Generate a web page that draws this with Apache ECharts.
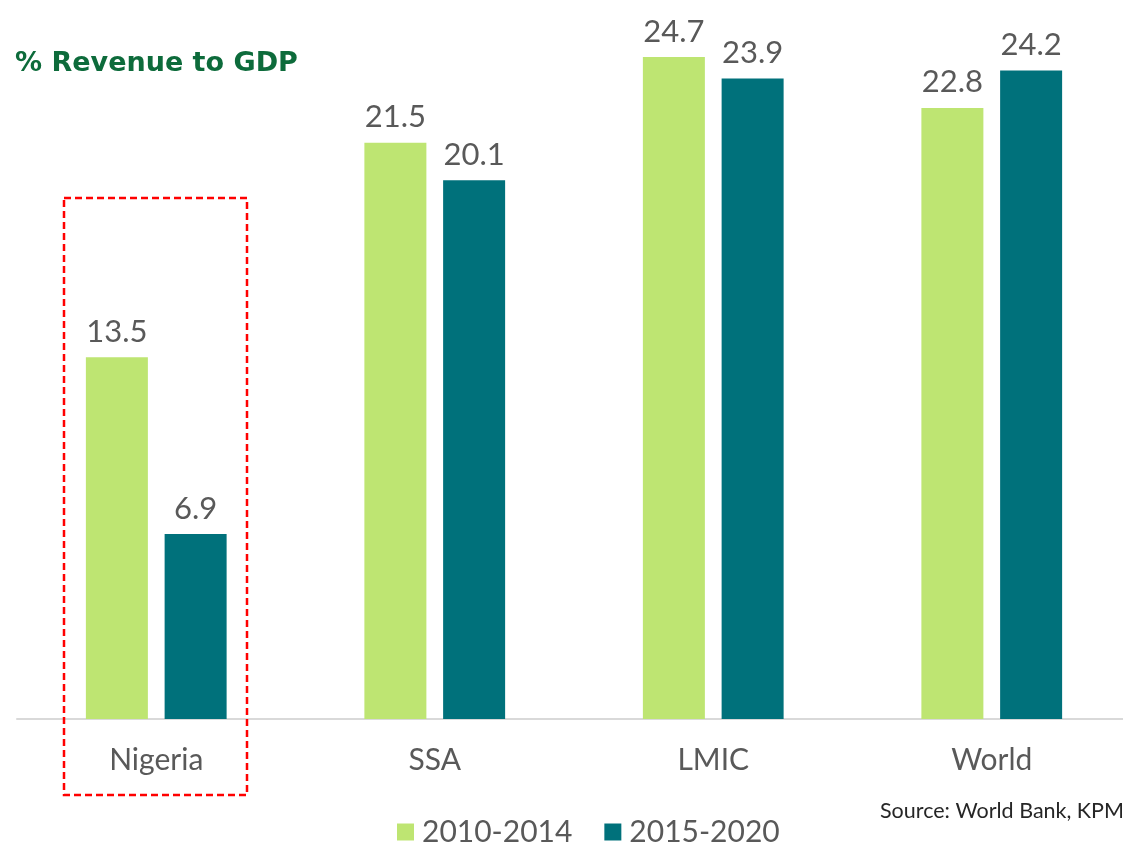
<!DOCTYPE html>
<html lang="en">
<head>
	<meta charset="UTF-8">
	<title>% Revenue to GDP</title>
	<style>
		html, body{
			margin: 0;
			padding: 0;
			background: #fff;
		}
		#main{
			width: 1123px;
			height: 845px;
		}
	</style>
	<script src="https://cdn.jsdelivr.net/npm/echarts@6/dist/echarts.min.js"></script>
</head>
<body>
	<div id="main"></div>
	<script>
		// data
		var categories = ['Nigeria', 'SSA', 'LMIC', 'World'];
		var seriesNames = ['2010-2014', '2015-2020'];
		var values2010 = [13.5, 21.5, 24.7, 22.8];
		var values2015 = [6.9, 20.1, 23.9, 24.2];

		var textGrey = '#595959';
		var fontName = 'Lato, "Open Sans", sans-serif';

		var myChart = echarts.init(document.getElementById('main'), null, {renderer: 'canvas'});

		function barLabel(){
			return {
				show: true,
				position: 'top',
				distance: 10,
				color: textGrey,
				fontSize: 31,
				fontFamily: fontName,
				formatter: function(p){ return p.value.toFixed(1); }
			};
		}

		var option = {
			backgroundColor: '#fff',
			animation: false,
			title: {
				text: '% Revenue to GDP',
				left: 15,
				top: 50,
				padding: 0,
				textStyle: {
					color: '#0d6b3b',
					fontSize: 27,
					fontWeight: 'bold',
					fontFamily: '"DejaVu Sans", sans-serif'
				}
			},
			legend: {
				data: seriesNames,
				left: 397,
				top: 817,
				padding: 0,
				itemWidth: 17,
				itemHeight: 17,
				itemGap: 32,
				icon: 'rect',
				textStyle: {
					color: textGrey,
					fontSize: 30,
					fontFamily: fontName,
					padding: [0, 0, 0, 3]
				}
			},
			grid: {
				left: 17,
				width: 1114,
				top: 49,
				bottom: 126,
				containLabel: false,
				outerBoundsMode: 'none'
			},
			xAxis: {
				type: 'category',
				data: categories,
				axisLine: {lineStyle: {color: '#d9d9d9', width: 2}},
				axisTick: {show: false},
				axisLabel: {
					color: textGrey,
					fontSize: 30,
					fontFamily: fontName,
					margin: 26
				}
			},
			yAxis: {
				type: 'value',
				min: 0,
				max: 25,
				show: false,
				splitLine: {show: false}
			},
			series: [{
				name: seriesNames[0],
				type: 'bar',
				data: values2010,
				barWidth: 62,
				barGap: '27%',
				itemStyle: {color: '#bee572'},
				label: barLabel()
			}, {
				name: seriesNames[1],
				type: 'bar',
				data: values2015,
				barWidth: 62,
				itemStyle: {color: '#00717b'},
				label: barLabel()
			}],
			graphic: [{
				type: 'rect',
				shape: {x: 64, y: 198, width: 183, height: 597},
				style: {
					fill: 'none',
					stroke: '#ff0000',
					lineWidth: 2.5,
					lineDash: [7, 4]
				},
				z: 10
			}, {
				type: 'text',
				left: 880,
				top: 800,
				style: {
					text: 'Source: World Bank, KPMG',
					fill: '#262626',
					fontSize: 21.5,
					fontFamily: fontName
				}
			}]
		};

		myChart.setOption(option);
	</script>
</body>
</html>
